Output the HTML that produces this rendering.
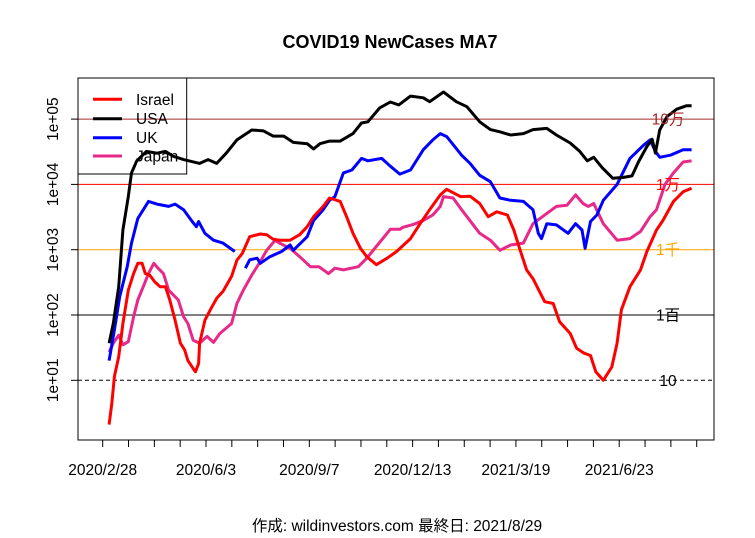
<!DOCTYPE html>
<html><head><meta charset="utf-8"><style>
html,body{margin:0;padding:0;background:#fff;}
svg{display:block;font-family:"Liberation Sans","Noto Sans CJK JP",sans-serif;}
</style></head><body>
<svg id="chart" width="755" height="538" viewBox="0 0 755 538" xmlns="http://www.w3.org/2000/svg">
<rect width="755" height="538" fill="#fff"/>
<text x="390" y="48" text-anchor="middle" font-size="18" font-weight="bold">COVID19 NewCases MA7</text>
<text x="397" y="531" text-anchor="middle" font-size="15.5">作成: wildinvestors.com 最終日: 2021/8/29</text>
<g id="grid"></g>
<g id="series"></g>
<g id="axes"></g>
<rect x="78" y="78" width="636" height="362" fill="none" stroke="#000" stroke-width="1"/>
<g>
<rect x="78" y="78" width="108.7" height="96" fill="none" stroke="#000" stroke-width="1"/>
<g><line x1="93" x2="122" y1="99.3" y2="99.3" stroke="#ff0000" stroke-width="3"/><text x="136" y="104.8" font-size="15.5">Israel</text></g>
<g><line x1="93" x2="122" y1="118.7" y2="118.7" stroke="#000" stroke-width="3"/><text x="136" y="124.2" font-size="15.5">USA</text></g>
<g><line x1="93" x2="122" y1="137.7" y2="137.7" stroke="#0000ff" stroke-width="3"/><text x="136" y="143.2" font-size="15.5">UK</text></g>
<g><line x1="93" x2="122" y1="156" y2="156" stroke="#e7298a" stroke-width="3"/><text x="136" y="161.5" font-size="15.5">Japan</text></g>
</g>
</svg>
<script>
// ---- data ----
const xTickLabels = ["2020/2/28","2020/6/3","2020/9/7","2020/12/13","2021/3/19","2021/6/23"];
const yTickValues = [10,100,1000,10000,100000];
const yTickLabels = ["1e+01","1e+02","1e+03","1e+04","1e+05"];
const refLabels = ["10","1百","1千","1万","10万"];
const refColors = ["#000","#000","#ffa500","#ff0000","#a52a2a"];

const usaDays = [6,10,15,19,24,27,32,41,51,59,66,76,91,99,107,116,126,140,151,160,170,179,192,198,204,213,223,235,243,249,260,270,278,289,301,307,320,332,342,354,364,373,383,395,404,417,426,439,448,455,461,469,479,489,497,503,511,516,519,523,530,539,548,553];
const usaVals = [37,74,270,2000,6500,15000,23000,32000,30000,32000,27000,24000,21000,24000,21000,30000,48000,68000,66000,55000,55000,44000,42000,35000,42000,46000,46000,60000,87000,91000,148000,183000,165000,225000,212000,185000,260000,185000,155000,91000,69000,64000,57000,60000,69000,72000,57000,43000,32000,23000,26000,18000,12400,12800,13500,22000,38000,49000,30000,68000,110000,142000,160000,160000];

const ukDays = [6,11,16,23,27,33,43,51,62,68,76,84,88,90,96,104,113,124,129,134,138,145,148,157,168,176,179,192,198,207,213,218,226,234,243,249,262,270,279,289,301,310,317,323,337,345,354,364,373,383,395,404,409,412,417,426,437,444,450,453,458,464,470,483,495,508,514,519,523,533,545,553];
const ukVals = [20,59,190,550,1260,3000,5500,5000,4600,5000,4100,2700,2250,2700,1780,1400,1260,940,null,520,700,740,620,780,940,1180,980,1580,2800,4100,5700,6500,15000,16600,25000,23000,25000,19000,14400,16600,34000,48000,60000,54000,28000,21000,13800,11000,6200,5700,5500,4100,1780,1480,2500,2400,1780,2500,2000,1050,2700,3400,5700,10000,25000,40000,48000,32000,26000,28000,34000,34000];

const israelDays = [6,8.5,11,15,19,24,29,33,37,40,44,49,54,59,63,68,73,77,80,87,90,91,96,101,107,113,121,126,131,138,148,154,160,166,176,185,192,198,207,213,223,229,235,242,248,257,267,276,289,298,307,317,323,336,345,354,362,370,380,386,392,398,404,415,423,429,439,445,452,458,463,470,478,483,487,495,505,511,520,526,536,545,553];
const israelVals = [2.1,4.4,11.4,23,74,240,430,620,620,430,410,320,270,270,170,83,37,29,20,13.5,18,37,83,120,180,230,390,690,870,1580,1740,1700,1450,1400,1400,1700,2250,3200,4600,6200,5500,3200,1780,1050,780,590,740,940,1480,2500,4100,6900,8400,6500,6600,5100,3200,3800,3400,2000,980,490,360,160,150,79,52,31,26,24,13.5,10,16,37,120,270,490,940,2000,2800,5500,7700,8700];

const japanDays = [6,10,15,19,24,29,33,38,43,48,52,57,62,66,71,76,80,85,91,98,104,110,116,121,126,132,140,148,154,162,166,176,185,195,203,212,218,226,240,248,258,270,279,282,292,301,310,317,320,329,337,347,354,364,373,383,395,404,417,426,436,444,451,456,461,470,483,495,505,514,520,528,536,545,553];
const japanVals = [27,37,49,35,39,94,170,270,430,620,520,430,240,205,170,94,74,41,37,47,38,52,63,74,150,240,410,660,980,1400,1260,1050,780,550,550,430,520,490,550,740,1180,2050,2050,2200,2450,2800,3400,4600,6500,6200,4100,2500,1780,1400,980,1180,1260,2500,3600,4600,4800,6900,5100,4600,5100,2500,1400,1480,1900,3200,4100,10000,15000,22000,23000];

// ---- scales ----
const NS = "http://www.w3.org/2000/svg";
const X0 = 102.7, PXDAY = 1.065;
const xScale = d => X0 + d * PXDAY;
const yScale = v => 380.3 - (Math.log10(v) - 1) * 65.3;
function mk(tag, attrs, parent) {
  const e = document.createElementNS(NS, tag);
  for (const k in attrs) e.setAttribute(k, attrs[k]);
  parent.appendChild(e);
  return e;
}
const grid = document.getElementById('grid');
const axes = document.getElementById('axes');
const series = document.getElementById('series');

yTickValues.forEach((v, i) => {
  const y = yScale(v);
  const ln = mk('line', {x1: 78, x2: 714, y1: y, y2: y, stroke: refColors[i], 'stroke-width': 1}, grid);
  
  
  if (i === 0) ln.setAttribute('stroke-dasharray', '4,3');
});

yTickValues.forEach((v, i) => {
  const y = yScale(v);
  const t = mk('line', {x1: 71, x2: 78, y1: y, y2: y, stroke: '#000'}, axes);
  
  
  const tx = mk('text', {x: 0, y: 0, transform: 'translate(58,' + y + ') rotate(-90)', 'text-anchor': 'middle', 'font-size': 15.5}, axes);
  tx.textContent = yTickLabels[i];
  
  
});

for (let k = 0; k <= 23; k++) {
  const x = xScale(k * 24.25);
  if (x > 714) break;
  const t = mk('line', {x1: x, x2: x, y1: 440, y2: 447, stroke: '#000'}, axes);
  
  
}
xTickLabels.forEach((s, i) => {
  const tx = mk('text', {x: xScale(i * 97), y: 475, 'text-anchor': 'middle', 'font-size': 15.5}, axes);
  tx.textContent = s;
  
  
});

function drawSeries(days, vals, color, name) {
  let d = '', pen = false;
  days.forEach((day, i) => {
    const v = vals[i];
    if (v == null) { pen = false; return; }
    d += (pen ? 'L' : 'M') + xScale(day).toFixed(1) + ',' + yScale(v).toFixed(1);
    pen = true;
  });
  const p = mk('path', {d: d, fill: 'none', stroke: color, 'stroke-width': 3, 'stroke-linejoin': 'round'}, series);
  
  
}
drawSeries(japanDays, japanVals, '#e7298a', 'japan-line');
drawSeries(ukDays, ukVals, '#0000ff', 'uk-line');
drawSeries(usaDays, usaVals, '#000000', 'usa-line');
drawSeries(israelDays, israelVals, '#ff0000', 'israel-line');

yTickValues.forEach((v, i) => {
  const tx = mk('text', {x: 668, y: yScale(v) + 5.5, 'text-anchor': 'middle', 'font-size': 15.5, fill: refColors[i]}, axes);
  tx.textContent = refLabels[i];
  
  
});
</script>
</body></html>
